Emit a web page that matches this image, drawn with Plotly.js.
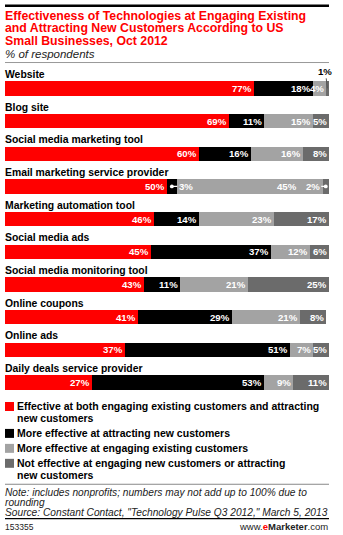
<!DOCTYPE html>
<html>
<head>
<meta charset="utf-8">
<script src="https://cdn.plot.ly/plotly-3.0.1.min.js"></script>
<style>html,body{margin:0;padding:0;background:#fff;}#chart{width:343px;height:535px;}</style>
</head>
<body>
<div id="chart"></div>
<script>
const categories = ['Website','Blog site','Social media marketing tool','Email marketing service provider','Marketing automation tool','Social media ads','Social media monitoring tool','Online coupons','Online ads','Daily deals service provider'];
const both = [77,69,60,50,46,45,43,41,37,27];
const attracting = [18,11,16,3,14,37,11,29,51,53];
const engaging = [4,15,16,45,23,12,21,21,7,9];
const notEffective = [1,5,8,2,17,6,25,8,5,11];
const seriesNames = [
  ['Effective at both engaging existing customers and attracting','new customers'],
  ['More effective at attracting new customers'],
  ['More effective at engaging existing customers'],
  ['Not effective at engaging new customers or attracting','new customers']
];
const titleLines = ['Effectiveness of Technologies at Engaging Existing','and Attracting New Customers According to US','Small Businesses, Oct 2012'];
const subtitle = '% of respondents';
const noteLines = ['Note: includes nonprofits; numbers may not add up to 100% due to','rounding','Source: Constant Contact, "Technology Pulse Q3 2012," March 5, 2013'];
const chartId = '153355';

const series = [both, attracting, engaging, notEffective];
const colors = ['#ff0000','#000000','#a3a3a3','#6b6b6b'];
const FONT = 'Liberation Sans, Arial, sans-serif';

// geometry (pixels)
const W = 343, H = 535, ML = 5, MR = 14, MT = 71.5, MB = 132.5;
const PW = W - ML - MR, PH = H - MT - MB;
const px = x => (x - ML) / PW;
const py = y => (H - MB - y) / PH;

const traces = series.map((vals, s) => ({
  type: 'bar', orientation: 'h', y: categories, x: vals,
  name: seriesNames[s].join(' '),
  marker: {color: colors[s], line: {width: 0}},
  hoverinfo: 'skip', showlegend: false
}));

const ann = [];
const shapes = [];
const base = {showarrow:false, borderpad:0, borderwidth:0};

// title block
titleLines.forEach((t, i) => ann.push(Object.assign({}, base, {xref:'paper', yref:'paper', x: px(5), y: py(15 + i*12.6), xanchor:'left', yanchor:'middle',
  text: t, font:{family:FONT, size:12.3, color:'#ff0000', weight:'bold'}})));
ann.push(Object.assign({}, base, {xref:'paper', yref:'paper', x: px(5), y: py(53), xanchor:'left', yanchor:'middle',
  text: subtitle, font:{family:FONT, size:11.5, color:'#222', style:'italic'}}));
shapes.push({type:'line', xref:'paper', yref:'paper', x0:px(5), x1:px(329), y0:py(5), y1:py(5), line:{color:'#000', width:2.5}});
shapes.push({type:'line', xref:'paper', yref:'paper', x0:px(5), x1:px(329), y0:py(62), y1:py(62), line:{color:'#999', width:1}});

// category labels above bars
categories.forEach(c => ann.push(Object.assign({}, base, {xref:'paper', yref:'y', x:0, y:c, yshift:14, xanchor:'left', yanchor:'middle',
  text:c, font:{family:FONT, size:10.4, color:'#000', weight:'bold'}})));

// value labels
const labelFont = {family:FONT, size:9.6, color:'#fff', weight:'bold'};
categories.forEach((c, i) => {
  let cum = 0;
  series.forEach((vals, s) => {
    const v = vals[i];
    const start = cum; cum += v;
    const txt = v + '%';
    if (c === 'Website' && s === 3) {
      ann.push({x:(start+cum)/2, y:c, xref:'x', yref:'y', text:txt, showarrow:true, ax:-2, ay:-17,
        arrowhead:0, arrowwidth:1, arrowcolor:'#555', standoff:0,
        font:{family:FONT, size:9.6, color:'#000', weight:'bold'}});
    } else if (c === 'Email marketing service provider' && s === 1) {
      ann.push({x:(start+cum)/2, y:c, xref:'x', yref:'y', text:txt, showarrow:true, ax:14, ay:0,
        arrowhead:6, arrowsize:0.8, arrowwidth:1.2, arrowcolor:'#fff', standoff:0, font:labelFont});
    } else if (c === 'Email marketing service provider' && s === 3) {
      ann.push({x:(start+cum)/2, y:c, xref:'x', yref:'y', text:txt, showarrow:true, ax:-13, ay:0,
        arrowhead:6, arrowsize:0.8, arrowwidth:1.2, arrowcolor:'#fff', standoff:0, font:labelFont});
    } else if (c === 'Email marketing service provider' && s === 2) {
      ann.push(Object.assign({}, base, {x:cum, y:c, xref:'x', yref:'y', xanchor:'right', xshift:-26, text:txt, font:labelFont}));
    } else {
      ann.push(Object.assign({}, base, {x:cum, y:c, xref:'x', yref:'y', xanchor:'right', xshift:-2, text:txt, font:labelFont}));
    }
  });
});

// legend
const legY = [407, 434, 449, 464];
seriesNames.forEach((lines, s) => {
  shapes.push({type:'rect', xref:'paper', yref:'paper', x0:px(5), x1:px(14), y0:py(legY[s]-4.5), y1:py(legY[s]+4.5),
    fillcolor:colors[s], line:{width:0}});
  lines.forEach((t, j) => ann.push(Object.assign({}, base, {xref:'paper', yref:'paper', x:px(17), y:py(legY[s] + j*12), xanchor:'left', yanchor:'middle',
    text:t, font:{family:FONT, size:10.5, color:'#000', weight:'bold'}})));
});

// notes
shapes.push({type:'line', xref:'paper', yref:'paper', x0:px(5), x1:px(329), y0:py(485), y1:py(485), line:{color:'#888', width:1}});
const noteY = [493, 503.5, 513.5];
noteLines.forEach((t, j) => ann.push(Object.assign({}, base, {xref:'paper', yref:'paper', x:px(5), y:py(noteY[j]), xanchor:'left', yanchor:'middle',
  text:t, font:{family:FONT, size:10.2, color:'#222', style:'italic'}})));
shapes.push({type:'line', xref:'paper', yref:'paper', x0:px(5), x1:px(329), y0:py(519.5), y1:py(519.5), line:{color:'#000', width:1.2}});
ann.push(Object.assign({}, base, {xref:'paper', yref:'paper', x:px(5), y:py(527.5), xanchor:'left', yanchor:'middle',
  text:chartId, font:{family:FONT, size:8.5, color:'#222'}}));
ann.push(Object.assign({}, base, {xref:'paper', yref:'paper', x:px(328), y:py(527.5), xanchor:'right', yanchor:'middle',
  text:'www.<b><span style="color:#ff0000">e</span>Marketer</b>.com', font:{family:FONT, size:9.5, color:'#222'}}));

const layout = {
  width: W, height: H,
  margin: {l: ML, r: MR, t: MT, b: MB, pad: 0},
  paper_bgcolor: '#fff', plot_bgcolor: '#fff',
  barmode: 'stack', bargap: 0.56,
  xaxis: {range:[0,100], visible:false, fixedrange:true},
  yaxis: {type:'category', autorange:'reversed', visible:false, fixedrange:true},
  annotations: ann, shapes: shapes, showlegend: false
};
Plotly.newPlot('chart', traces, layout, {displayModeBar:false, staticPlot:true});
</script>
</body>
</html>
